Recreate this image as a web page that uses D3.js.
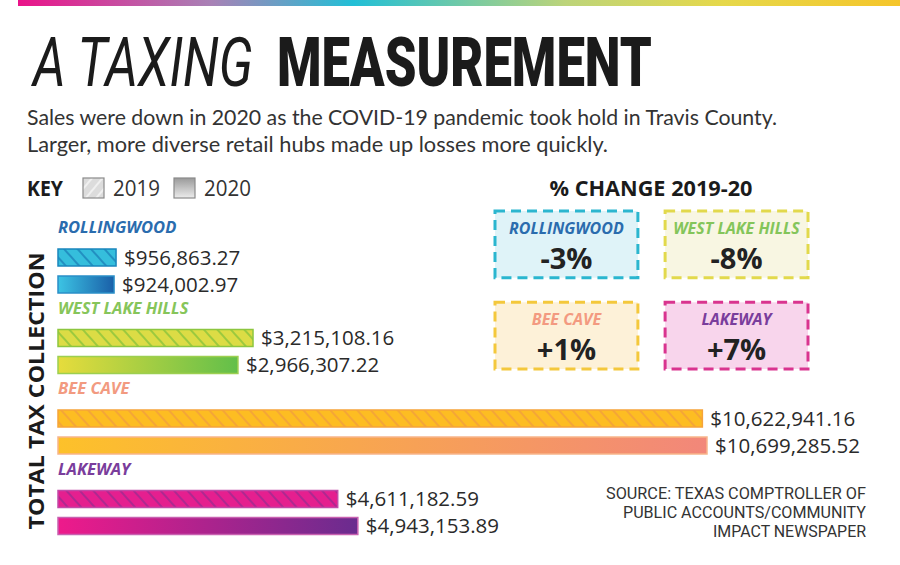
<!DOCTYPE html>
<html><head><meta charset="utf-8">
<script src="https://cdn.jsdelivr.net/npm/d3@7"></script>
<style>html,body{margin:0;padding:0;background:#fff;}svg{display:block;}</style>
</head><body>
<svg id="chart" width="900" height="565"></svg>
<script>
// ---- data ----
const cities = ["ROLLINGWOOD", "WEST LAKE HILLS", "BEE CAVE", "LAKEWAY"];
const values2019 = [956863.27, 3215108.16, 10622941.16, 4611182.59];
const values2020 = [924002.97, 2966307.22, 10699285.52, 4943153.89];
const pctChange = ["-3%", "-8%", "+1%", "+7%"];
const years = ["2019", "2020"];
const sourceLines = ["SOURCE: TEXAS COMPTROLLER OF", "PUBLIC ACCOUNTS/COMMUNITY", "IMPACT NEWSPAPER"];

// ---- styles ----
const style = {
  "ROLLINGWOOD":    {label:"#2a6cae", fill:"#35bedc", hatch:"#1d84bb", stroke:"#1a86bd", g0:"#3cc4e4", g1:"#1a5fa8", s2:"#2a8fc8", boxStroke:"#2bb6cf", boxFill:"#dff3f8", boxLabel:"#2a6cae"},
  "WEST LAKE HILLS":{label:"#86c55a", fill:"#dcdc45", hatch:"#8cc43c", stroke:"#8dc63f", g0:"#e6dc3c", g1:"#62bf4a", s2:"#9ccf50", boxStroke:"#e2d94c", boxFill:"#f8f6e2", boxLabel:"#84c55a"},
  "BEE CAVE":       {label:"#f29a80", fill:"#fdbd22", hatch:"#f2a03c", stroke:"#f6a43a", g0:"#fdc12a", g1:"#f2877a", s2:"#f8b58a", boxStroke:"#f4c83c", boxFill:"#fdf1d8", boxLabel:"#f39a80"},
  "LAKEWAY":        {label:"#7a3d9c", fill:"#e51f8f", hatch:"#a02a90", stroke:"#c24aa8", g0:"#ee1a8b", g1:"#6a2c8f", s2:"#c860b0", boxStroke:"#d9348f", boxFill:"#f8d5ec", boxLabel:"#7a3d9c"}
};
const sans = "'Open Sans', 'Noto Sans', sans-serif";

const svg = d3.select("#chart");
const defs = svg.append("defs");

// top rainbow bar
const tg = defs.append("linearGradient").attr("id","topgrad");
[[0,"#ea1389"],[0.22,"#a882b6"],[0.38,"#22bfd6"],[0.62,"#bcd47a"],[0.8,"#e6d84a"],[1,"#f5c52a"]]
  .forEach(([o,c]) => tg.append("stop").attr("offset",o).attr("stop-color",c));
svg.append("rect").attr("x",18).attr("y",0).attr("width",882).attr("height",6).attr("fill","url(#topgrad)");

// title: each word group horizontally compressed with a transform to its target width
function fittedText(txt, x0, y0, width, styles){
  const t = svg.append("text").attr("x",0).attr("y",0).attr("fill","#1b1b1b").text(txt);
  Object.entries(styles).forEach(([k,v]) => t.style(k,v));
  const w = t.node().getComputedTextLength();
  t.attr("transform",`translate(${x0},${y0}) scale(${width/w},1)`);
  return t;
}
fittedText("A TAXING", 33, 86, 220, {"font-family":"Roboto, sans-serif","font-size":"69px","font-style":"italic","font-weight":"400"});
fittedText("MEASUREMENT", 277, 86, 375, {"font-family":"Roboto, sans-serif","font-size":"69px","font-weight":"900"});

// subtitle
const subLines = ["Sales were down in 2020 as the COVID-19 pandemic took hold in Travis County.",
                  "Larger, more diverse retail hubs made up losses more quickly."];
const subLens = [750, 581];
subLines.forEach((t,i) => svg.append("text").attr("x",27).attr("y",125 + i*27).attr("fill","#333")
  .style("font-family","Lato, 'Open Sans', sans-serif").style("font-size","22px")
  .attr("textLength",subLens[i]).attr("lengthAdjust","spacingAndGlyphs").text(t));

// patterns & gradients
function hatchPattern(id, bg, line, rot, w){
  const p = defs.append("pattern").attr("id",id).attr("patternUnits","userSpaceOnUse")
    .attr("width",w).attr("height",w).attr("patternTransform",`rotate(${rot})`);
  p.append("rect").attr("width",w).attr("height",w).attr("fill",bg);
  p.append("line").attr("x1",1).attr("y1",0).attr("x2",1).attr("y2",w).attr("stroke",line).attr("stroke-width",1.6);
}
function barGradient(id, c0, c1, vertical){
  const g = defs.append("linearGradient").attr("id",id);
  if (vertical) g.attr("x1",0).attr("y1",0).attr("x2",0).attr("y2",1);
  g.append("stop").attr("offset",0).attr("stop-color",c0);
  g.append("stop").attr("offset",1).attr("stop-color",c1);
}
cities.forEach((c,i) => {
  const s = style[c];
  hatchPattern("hatch"+i, s.fill, s.hatch, -42, 10);
  barGradient("grad"+i, s.g0, s.g1, false);
});
hatchPattern("hatchKey", "#dcdcdc", "#f6f6f6", 40, 8);
barGradient("gradKey", "#9a9a9a", "#ececec", true);

// key
svg.append("text").attr("x",27).attr("y",196).attr("fill","#1b1b1b").style("font-family",sans)
  .style("font-size","22px").style("font-weight","700")
  .attr("textLength",36).attr("lengthAdjust","spacingAndGlyphs").text("KEY");
const keyX = d3.scalePoint().domain(years).range([83,174]);
years.forEach((y,i) => {
  svg.append("rect").attr("x",keyX(y)).attr("y",178).attr("width",21).attr("height",20)
    .attr("fill", i===0 ? "url(#hatchKey)" : "url(#gradKey)").attr("stroke","#8a8a8a").attr("stroke-width",1.2);
  svg.append("text").attr("x",keyX(y)+30).attr("y",196).attr("fill","#333").style("font-family",sans)
    .style("font-size","22px").attr("textLength",47).attr("lengthAdjust","spacingAndGlyphs").text(y);
});

// axis title
svg.append("text").attr("transform","translate(44,391) rotate(-90)").attr("text-anchor","middle")
  .attr("fill","#1b1b1b").style("font-family",sans).style("font-size","21px").style("font-weight","700")
  .attr("textLength",277).attr("lengthAdjust","spacingAndGlyphs").text("TOTAL TAX COLLECTION");

// bars
const x = d3.scaleLinear().domain([0, d3.max(values2020.concat(values2019))]).range([58, 707]);
const group = d3.scaleBand().domain(cities).range([218, 540]);
const fmt = v => "$" + d3.format(",.2f")(v);
const barH = 17;

const g = svg.append("g");
cities.forEach((c,i) => {
  const s = style[c];
  const gy = group(c);
  g.append("text").attr("x",58).attr("y",gy+15).attr("fill",s.label).style("font-family",sans)
    .style("font-size","16.5px").style("font-weight","700").style("font-style","italic").text(c);
  const vals = [values2019[i], values2020[i]];
  vals.forEach((v,j) => {
    const by = gy + 31 + j*27;
    g.append("rect").attr("x",x(0)).attr("y",by).attr("width",x(v)-x(0)).attr("height",barH)
      .attr("fill", j===0 ? `url(#hatch${i})` : `url(#grad${i})`)
      .attr("stroke", j===0 ? s.stroke : s.s2).attr("stroke-width",1.5);
    g.append("text").attr("x",x(v)+8).attr("y",by+barH/2+7).attr("fill","#2a2a2a")
      .style("font-family",sans).style("font-size","20.5px").text(fmt(v));
  });
});

// % change panel
svg.append("text").attr("x",651).attr("y",196).attr("text-anchor","middle").attr("fill","#1b1b1b")
  .style("font-family",sans).style("font-size","22px").style("font-weight","700")
  .attr("textLength",203).attr("lengthAdjust","spacingAndGlyphs").text("% CHANGE 2019-20");
const bx = d3.scaleBand().domain([0,1]).range([495, 808]).paddingInner(0.16);
const byS = d3.scaleBand().domain([0,1]).range([211, 369]).paddingInner(0.27);
cities.forEach((c,i) => {
  const s = style[c];
  const X = bx(i%2), Y = byS(Math.floor(i/2)), W = bx.bandwidth(), H = byS.bandwidth();
  svg.append("rect").attr("x",X).attr("y",Y).attr("width",W).attr("height",H)
    .attr("fill",s.boxFill).attr("stroke",s.boxStroke).attr("stroke-width",3).attr("stroke-dasharray","10,6");
  svg.append("text").attr("x",X+W/2).attr("y",Y+23).attr("text-anchor","middle").attr("fill",s.boxLabel)
    .style("font-family",sans).style("font-size","16px").style("font-weight","700").style("font-style","italic").text(c);
  svg.append("text").attr("x",X+W/2).attr("y",Y+58).attr("text-anchor","middle").attr("fill","#222")
    .style("font-family",sans).style("font-size","29px").style("font-weight","700").text(pctChange[i]);
});

// source
const srcLens = [260, 243, 153];
sourceLines.forEach((t,i) => svg.append("text").attr("x",866).attr("y",499 + i*19).attr("text-anchor","end")
  .attr("fill","#333").style("font-family","Roboto, sans-serif").style("font-size","16px")
  .attr("textLength",srcLens[i]).attr("lengthAdjust","spacingAndGlyphs").text(t));
</script>
</body></html>
